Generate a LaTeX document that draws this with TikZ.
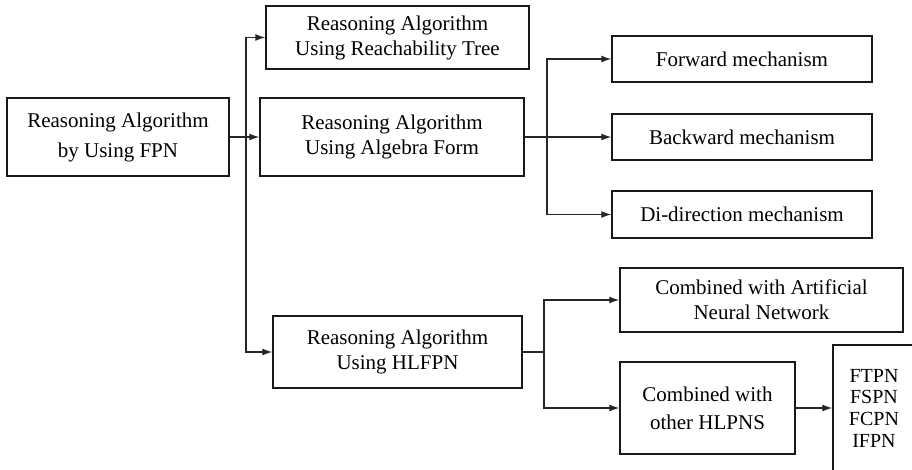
\documentclass[tikz,border=0pt]{standalone}
\usepackage{fontspec}
\setmainfont{Liberation Serif}
\usetikzlibrary{arrows.meta}
\begin{document}
\begin{tikzpicture}[x=1pt,y=-1pt,
  box/.style={draw=black!90, line width=1.4pt, inner sep=0pt, align=center,
              font=\fontsize{21}{25}\selectfont},
  conn/.style={draw=black!85, line width=1.3pt, -{Latex[length=10pt,width=7pt]}},
  plain/.style={draw=black!85, line width=1.3pt}]
\clip (0,0) rectangle (912,470);
\fill[white] (0,0) rectangle (912,470);
% boxes
\node[box, minimum width=222pt, minimum height=78pt] (fpn) at (118,137) {Reasoning Algorithm\\[5pt]by Using FPN};
\node[box, minimum width=263pt, minimum height=63pt] (reach) at (397.5,37.5) {Reasoning Algorithm\\Using Reachability Tree};
\node[box, minimum width=264pt, minimum height=78pt] (alg) at (392,137) {Reasoning Algorithm\\Using Algebra Form};
\node[box, minimum width=260pt, minimum height=46pt] (fwd) at (742,59) {Forward mechanism};
\node[box, minimum width=260pt, minimum height=46pt] (bwd) at (742,137) {Backward mechanism};
\node[box, minimum width=260pt, minimum height=47pt] (di) at (742,214.5) {Di-direction mechanism};
\node[box, minimum width=249pt, minimum height=72pt] (hlfpn) at (397.5,352) {Reasoning Algorithm\\Using HLFPN};
\node[box, minimum width=283pt, minimum height=64pt] (ann) at (761.5,300) {Combined with Artificial\\Neural Network};
\node[box, minimum width=175pt, minimum height=92pt] (hlpns) at (707.5,408) {Combined with\\[3pt]other HLPNS};
\node[box, minimum width=82pt, minimum height=126pt, font=\fontsize{20}{21.7}\selectfont] (list) at (874,408) {FTPN\\FSPN\\FCPN\\IFPN};
% junctions
\coordinate (j1) at (246,137);
\coordinate (j2) at (547,137);
\coordinate (j3) at (544,352);
% connectors
\draw[conn] (fpn.east) -- (alg.west);
\draw[conn] (j1) |- (reach.west);
\draw[conn] (j1) |- (hlfpn.west);
\draw[plain] (alg.east) -- (j2);
\draw[conn] (j2) |- (fwd.west);
\draw[conn] (j2) -- (bwd.west);
\draw[conn] (j2) |- (di.west);
\draw[plain] (hlfpn.east) -- (j3);
\draw[conn] (j3) |- (ann.west);
\draw[conn] (j3) |- (hlpns.west);
\draw[conn] (hlpns.east) -- (list.west);
\end{tikzpicture}
\end{document}
